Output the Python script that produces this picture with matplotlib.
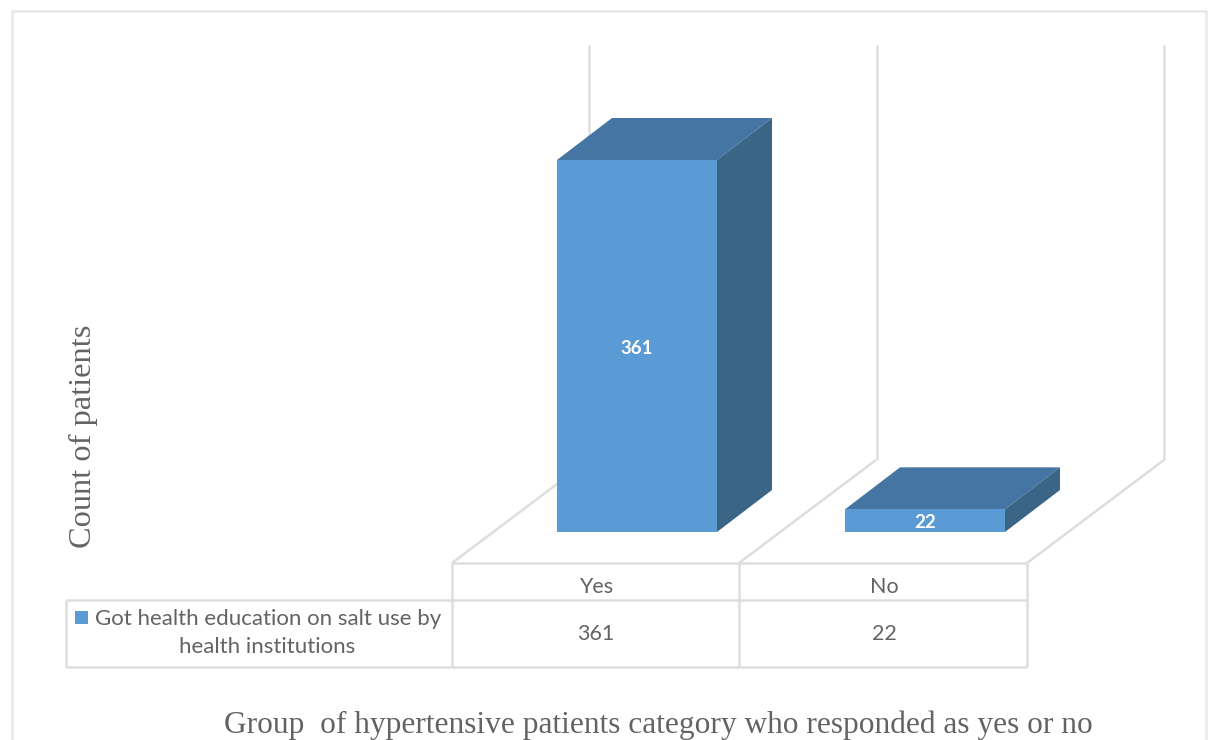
"""
plot.py - 3D-look column chart with a data table underneath.
"""

import matplotlib
matplotlib.use("Agg")
import matplotlib.pyplot as plt
from matplotlib.patches import Polygon, Rectangle

categories = ["Yes", "No"]
values = [361, 22]
series_name = "Got health education on salt use by\nhealth institutions"
y_label = "Count of patients"
x_label = "Group  of hypertensive patients category who responded as yes or no"

W, H = 1209, 740
BASE_Y = 532          # pixel row of the bar base
BAR_LEFT = 557        # pixel column of first bar
CAT_STEP = 288
BAR_W = 160
PX_PER_UNIT = 372 / 361
DEPTH_X, DEPTH_Y = 55, 42

FRONT = "#5B9BD5"
TOP = "#4575A2"
SIDE = "#3A6587"
GRID = "#DEDEDE"
TEXT = "#636363"
UI_FONT = "Lato"
SERIF = "Liberation Serif"

fig = plt.figure(figsize=(W / 100, H / 100), dpi=100, facecolor="white")

# pixel axes for the frame, walls and table
frame = fig.add_axes([0, 0, 1, 1], zorder=1)
frame.set_xlim(0, W)
frame.set_ylim(H, 0)
frame.axis("off")


def line(xs, ys, lw=1.8):
    frame.plot(xs, ys, color=GRID, lw=lw, solid_capstyle="butt")


# outer border, open at the bottom
frame.plot([12, 12, 1206, 1206], [740, 11, 11, 740], color="#E8E8E8", lw=1.8)

# walls and floor
for x in (589, 877, 1164):
    line([x, x], [45, 460])
for x in (452, 739, 1027):
    line([x, x + 137], [563, 460])

# table grid
line([452, 1027], [563, 563])
line([66, 1027], [600, 600])
line([66, 1027], [667, 667])
line([66, 66], [600, 667])
for x in (452, 739, 1027):
    line([x, x], [563, 667])

# bars, on axes scaled so one category step and one count map to pixels
ax = fig.add_axes([0, 0, 1, 1], zorder=2)
ax.set_xlim(-BAR_LEFT / CAT_STEP, (W - BAR_LEFT) / CAT_STEP)
ax.set_ylim(-(H - BASE_Y) / PX_PER_UNIT, BASE_Y / PX_PER_UNIT)
ax.axis("off")
ax.patch.set_alpha(0)

bw = BAR_W / CAT_STEP
dx = DEPTH_X / CAT_STEP
dy = DEPTH_Y / PX_PER_UNIT

for i, (cat, val) in enumerate(zip(categories, values)):
    ax.add_patch(Polygon([(i, val), (i + bw, val), (i + bw + dx, val + dy), (i + dx, val + dy)],
                         closed=True, facecolor=TOP, edgecolor="none"))
    ax.add_patch(Polygon([(i + bw, 0), (i + bw + dx, dy), (i + bw + dx, val + dy), (i + bw, val)],
                         closed=True, facecolor=SIDE, edgecolor="none"))
    ax.add_patch(Rectangle((i, 0), bw, val, facecolor=FRONT, edgecolor="none"))
    ax.text(i + bw / 2, val / 2 - 2, str(val), ha="center", va="center", color="white",
            fontsize=13.5, fontweight="bold", family=UI_FONT)

    # table cells
    cx = 596 + i * 288
    frame.text(cx, 587, cat, ha="center", va="center", color=TEXT, fontsize=15.5, family=UI_FONT)
    frame.text(cx, 634, str(val), ha="center", va="center", color=TEXT, fontsize=15.5, family=UI_FONT)

# legend cell
frame.add_patch(Rectangle((75, 611), 13, 13, facecolor=FRONT, edgecolor="none"))
first, second = series_name.split("\n")
frame.text(95, 619, first, ha="left", va="center", color=TEXT, fontsize=16, family=UI_FONT)
frame.text(267, 647, second, ha="center", va="center", color=TEXT, fontsize=16, family=UI_FONT)

# axis titles
frame.text(83, 436, y_label, rotation=90, ha="center", va="center", color=TEXT,
           fontsize=23.3, family=SERIF)
frame.text(658.5, 725, x_label, ha="center", va="center", color=TEXT,
           fontsize=22.6, family=SERIF)

fig.savefig("out.png", dpi=100)
